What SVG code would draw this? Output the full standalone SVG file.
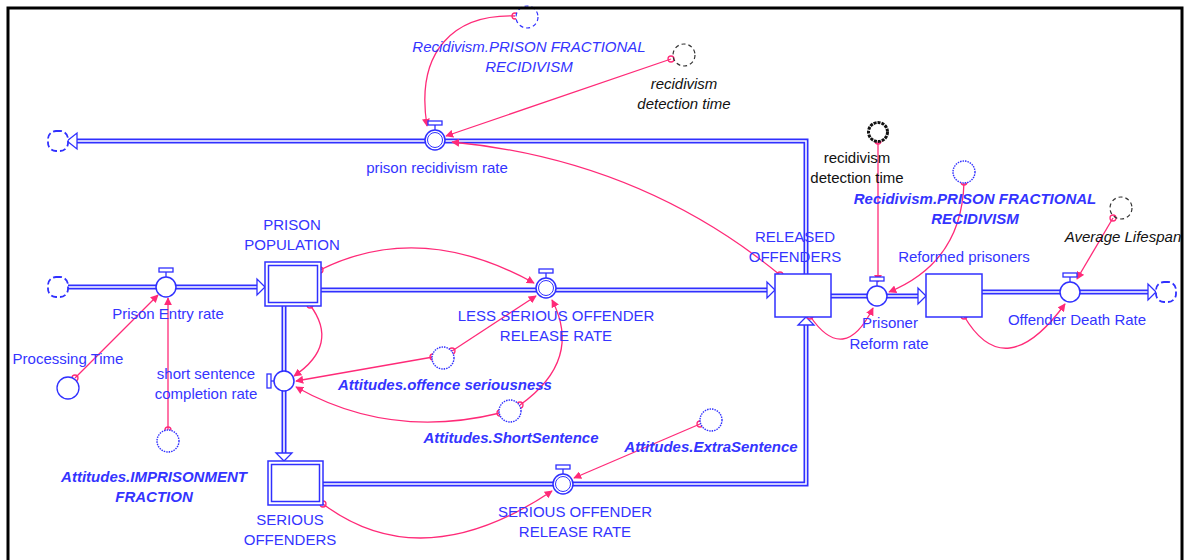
<svg xmlns="http://www.w3.org/2000/svg" width="1184" height="560" viewBox="0 0 1184 560">
<defs>
<style>
.pipeo{fill:none;stroke:#3030ff;stroke-width:5;stroke-linejoin:miter}
.pipei{fill:none;stroke:#fff;stroke-width:1.6;stroke-linejoin:miter}
.fa{fill:#fff;stroke:#3030ff;stroke-width:1.3}
.stock{fill:#fff;stroke:#3030ff;stroke-width:1.5}
.valve{fill:#fff;stroke:#3030ff;stroke-width:1.5}
.tee{fill:#fff;stroke:#3030ff;stroke-width:1.3}
.cloud{fill:#fff;stroke:#3030ff;stroke-width:1.8;stroke-dasharray:6 3}
.aux{fill:#fff;stroke:#3030ff;stroke-width:1.3}
.shadow{fill:#fff;stroke:#3030ff;stroke-width:1.4;stroke-dasharray:1.5 1}
.dash{fill:none;stroke:#333;stroke-width:1.2;stroke-dasharray:4 3}
.conn{fill:none;stroke:#ff2a78;stroke-width:1.3;marker-end:url(#ah)}
.org{fill:none;stroke:#ff2a78;stroke-width:1.3}
text{font-family:"Liberation Sans",Arial,sans-serif;font-size:15px;text-anchor:middle}
.b{fill:#3434ff}
.bi{fill:#3434ff;font-weight:bold;font-style:italic}
.it{fill:#3434ff;font-style:italic}
.ki{fill:#111;font-style:italic}
.k{fill:#111}
</style>
<marker id="ah" viewBox="0 0 10 10" refX="9" refY="5" markerWidth="8" markerHeight="8" markerUnits="userSpaceOnUse" orient="auto">
<path d="M0,0 L10,5 L0,10 z" fill="#ff2a78"/>
</marker>
</defs>
<rect width="1184" height="560" fill="#fff"/>

<g id="flows">
<polyline class="pipeo" points="806,274 806,141 76,141"/>
<polyline class="pipei" points="806,274 806,141 76,141"/>
<polygon class="fa" points="67,141 77,133 77,149"/>
<polyline class="pipeo" points="68,287 257,287"/>
<polyline class="pipei" points="68,287 257,287"/>
<polygon class="fa" points="265,287 257,279 257,295"/>
<polyline class="pipeo" points="321,290 767,290"/>
<polyline class="pipei" points="321,290 767,290"/>
<polygon class="fa" points="775,290 767,282 767,298"/>
<polyline class="pipeo" points="831,296 918,296"/>
<polyline class="pipei" points="831,296 918,296"/>
<polygon class="fa" points="926,296 918,288 918,304"/>
<polyline class="pipeo" points="982,292 1148,292"/>
<polyline class="pipei" points="982,292 1148,292"/>
<polygon class="fa" points="1156,292 1148,284 1148,300"/>
<polyline class="pipeo" points="284,306 284,453"/>
<polyline class="pipei" points="284,306 284,453"/>
<polygon class="fa" points="284,461 276,453 292,453"/>
<polyline class="pipeo" points="323,484 806,484 806,325"/>
<polyline class="pipei" points="323,484 806,484 806,325"/>
<polygon class="fa" points="806,317 798,325 814,325"/>
</g>

<g id="connectors">
<path class="conn" d="M515,16 C455,14 415,50 427,126"/>
<path class="conn" d="M671,59 L446,136"/>
<path class="conn" d="M780,275 Q640,160 452,142"/>
<path class="conn" d="M320,270 Q420,220 534,283"/>
<path class="conn" d="M310,305 Q340,345 294,376"/>
<path class="conn" d="M433,357 Q370,368 296,381"/>
<path class="conn" d="M452,351 L536,296"/>
<path class="conn" d="M500,413 Q390,440 296,387"/>
<path class="conn" d="M520,405 Q583,360 552,300"/>
<path class="conn" d="M700,424 L574,478"/>
<path class="conn" d="M323,504 Q422,578 552,491"/>
<path class="conn" d="M75,378 L158,295"/>
<path class="conn" d="M168,430 L168,298"/>
<path class="conn" d="M810,316 Q844,366 873,308"/>
<path class="conn" d="M878,141 L878,282"/>
<path class="conn" d="M964,182 Q962,262 889,292"/>
<path class="conn" d="M1113,218 L1077,279"/>
<path class="conn" d="M964,316 Q1005,386 1065,304"/>
<circle class="org" cx="515" cy="16" r="3"/>
<circle class="org" cx="671" cy="59" r="3"/>
<circle class="org" cx="780" cy="275" r="3"/>
<circle class="org" cx="320" cy="270" r="3"/>
<circle class="org" cx="310" cy="305" r="3"/>
<circle class="org" cx="433" cy="357" r="3"/>
<circle class="org" cx="452" cy="351" r="3"/>
<circle class="org" cx="500" cy="413" r="3"/>
<circle class="org" cx="520" cy="405" r="3"/>
<circle class="org" cx="700" cy="424" r="3"/>
<circle class="org" cx="323" cy="504" r="3"/>
<circle class="org" cx="75" cy="378" r="3"/>
<circle class="org" cx="168" cy="430" r="3"/>
<circle class="org" cx="810" cy="316" r="3"/>
<circle class="org" cx="878" cy="141" r="3"/>
<circle class="org" cx="964" cy="182" r="3"/>
<circle class="org" cx="1113" cy="218" r="3"/>
<circle class="org" cx="964" cy="316" r="3"/>
</g>

<g id="cloud-top"><rect class="cloud" x="48" y="131" width="20" height="20" rx="8"/></g>
<g id="cloud-entry"><rect class="cloud" x="48" y="277" width="20" height="20" rx="8"/></g>
<g id="cloud-death"><rect class="cloud" x="1156" y="282" width="20" height="20" rx="8"/></g>

<g id="prison-population">
<rect class="stock" x="265" y="262" width="56" height="44"/>
<rect class="stock" x="268.5" y="265.5" width="49" height="37"/>
<text class="b" x="292" y="230">PRISON</text>
<text class="b" x="292" y="250">POPULATION</text>
</g>
<g id="released-offenders">
<rect class="stock" x="775" y="274" width="56" height="43"/>
<text class="b" x="795" y="242">RELEASED</text>
<text class="b" x="795" y="262">OFFENDERS</text>
</g>
<g id="reformed-prisoners">
<rect class="stock" x="926" y="274" width="56" height="43"/>
<text class="b" x="964" y="262">Reformed prisoners</text>
</g>
<g id="serious-offenders">
<rect class="stock" x="268" y="461" width="55" height="44"/>
<rect class="stock" x="271.5" y="464.5" width="48" height="37"/>
<text class="b" x="290" y="525">SERIOUS</text>
<text class="b" x="290" y="545">OFFENDERS</text>
</g>

<g id="prison-recidivism-rate">
<line x1="435" y1="130" x2="435" y2="124" stroke="#3030ff" stroke-width="1.3"/>
<rect class="tee" x="428" y="121" width="14" height="4"/>
<circle class="valve" cx="435" cy="140" r="10"/>
<circle cx="435" cy="140" r="7.5" fill="none" stroke="#3030ff" stroke-width="1"/>
<text class="b" x="437" y="173">prison recidivism rate</text>
</g>
<g id="prison-entry-rate">
<line x1="166" y1="277" x2="166" y2="271" stroke="#3030ff" stroke-width="1.3"/>
<rect class="tee" x="159" y="268" width="14" height="4"/>
<circle class="valve" cx="166" cy="287" r="10"/>
<text class="b" x="168" y="319">Prison Entry rate</text>
</g>
<g id="less-serious-release-rate">
<line x1="546" y1="278" x2="546" y2="272" stroke="#3030ff" stroke-width="1.3"/>
<rect class="tee" x="539" y="269" width="14" height="4"/>
<circle class="valve" cx="546" cy="288" r="10"/>
<circle cx="546" cy="288" r="7.5" fill="none" stroke="#3030ff" stroke-width="1"/>
<text class="b" x="556" y="321">LESS SERIOUS OFFENDER</text>
<text class="b" x="556" y="341">RELEASE RATE</text>
</g>
<g id="prisoner-reform-rate">
<line x1="877" y1="286" x2="877" y2="280" stroke="#3030ff" stroke-width="1.3"/>
<rect class="tee" x="870" y="277" width="14" height="4"/>
<circle class="valve" cx="877" cy="296" r="10"/>
<text class="b" x="890" y="328">Prisoner</text>
<text class="b" x="889" y="349">Reform rate</text>
</g>
<g id="offender-death-rate">
<line x1="1070" y1="282" x2="1070" y2="276" stroke="#3030ff" stroke-width="1.3"/>
<rect class="tee" x="1063" y="273" width="14" height="4"/>
<circle class="valve" cx="1070" cy="292" r="10"/>
<text class="b" x="1077" y="325">Offender Death Rate</text>
</g>
<g id="serious-release-rate">
<line x1="563" y1="474" x2="563" y2="468" stroke="#3030ff" stroke-width="1.3"/>
<rect class="tee" x="556" y="465" width="14" height="4"/>
<circle class="valve" cx="563" cy="484" r="10"/>
<circle cx="563" cy="484" r="7.5" fill="none" stroke="#3030ff" stroke-width="1"/>
<text class="b" x="575" y="517">SERIOUS OFFENDER</text>
<text class="b" x="575" y="537">RELEASE RATE</text>
</g>
<g id="short-sentence-completion-rate">
<line x1="274" y1="381" x2="270" y2="381" stroke="#3030ff" stroke-width="1.3"/>
<rect class="tee" x="267" y="374" width="4" height="14"/>
<circle class="valve" cx="284" cy="381" r="10"/>
<text class="b" x="206" y="379">short sentence</text>
<text class="b" x="206" y="399">completion rate</text>
</g>

<g id="recid-frac-top">
<circle cx="527" cy="17" r="11" fill="#fff" stroke="#3030ff" stroke-width="1.2" stroke-dasharray="4 3"/>
<text class="it" x="529" y="52">Recidivism.PRISON FRACTIONAL</text>
<text class="it" x="529" y="72">RECIDIVISM</text>
</g>
<g id="recid-detect-top">
<circle class="dash" cx="684" cy="55" r="11"/>
<text class="ki" x="684" y="89">recidivism</text>
<text class="ki" x="684" y="109">detection time</text>
</g>
<g id="recid-detect-right">
<circle cx="878" cy="132" r="9.5" fill="#fff" stroke="#111" stroke-width="3" stroke-dasharray="3 1"/>
<text class="k" x="857" y="163">recidivism</text>
<text class="k" x="857" y="183">detection time</text>
</g>
<g id="recid-frac-right">
<circle class="shadow" cx="964" cy="172" r="11"/>
<text class="bi" x="975" y="204">Recidivism.PRISON FRACTIONAL</text>
<text class="bi" x="975" y="224">RECIDIVISM</text>
</g>
<g id="average-lifespan">
<circle class="dash" cx="1121" cy="208" r="11"/>
<text class="ki" x="1123" y="242">Average Lifespan</text>
</g>
<g id="processing-time">
<circle class="aux" cx="68" cy="388" r="11"/>
<text class="b" x="68" y="364">Processing Time</text>
</g>
<g id="imprisonment-fraction">
<circle class="shadow" cx="168" cy="441" r="11"/>
<text class="bi" x="154" y="482">Attitudes.IMPRISONMENT</text>
<text class="bi" x="154" y="502">FRACTION</text>
</g>
<g id="offence-seriousness">
<circle class="shadow" cx="443" cy="358" r="11"/>
<text class="bi" x="445" y="390">Attitudes.offence seriousness</text>
</g>
<g id="short-sentence">
<circle class="shadow" cx="510" cy="411" r="11"/>
<text class="bi" x="511" y="443">Attitudes.ShortSentence</text>
</g>
<g id="extra-sentence">
<circle class="shadow" cx="711" cy="420" r="11"/>
<text class="bi" x="711" y="452">Attitudes.ExtraSentence</text>
</g>
<path d="M8,562 V8 H1182 V562" fill="none" stroke="#000" stroke-width="3"/>
</svg>
